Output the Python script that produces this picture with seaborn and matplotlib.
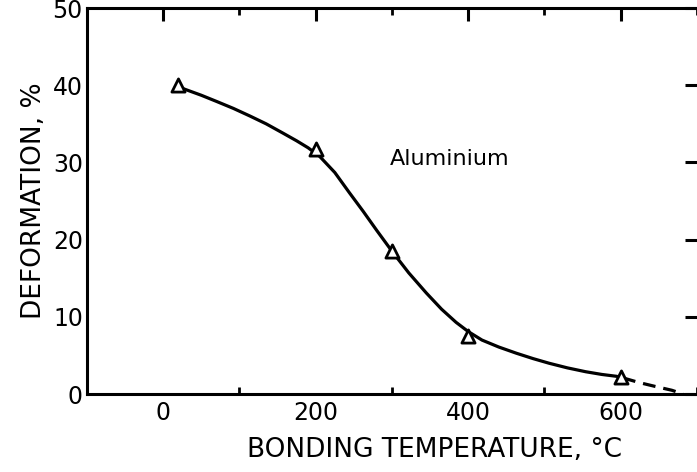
import matplotlib
matplotlib.use("Agg")
import matplotlib.pyplot as plt
import seaborn as sns
import pandas as pd
from matplotlib.ticker import MultipleLocator

# measured points (triangles)
temp_pts = [20, 200, 300, 400, 600]
deform_pts = [40.0, 31.8, 18.5, 7.5, 2.2]

# fitted curve (solid part)
curve_x = [25, 50, 70, 92, 114, 135, 157, 175, 190, 205, 225, 244, 262, 280, 300,
           322, 345, 365, 384, 400, 418, 440, 463, 485, 506, 530, 554, 575, 595]
curve_y = [39.6, 38.7, 37.9, 37.0, 36.0, 35.0, 33.8, 32.8, 31.9, 30.8, 28.7, 26.1,
           23.7, 21.2, 18.5, 15.7, 13.1, 11.0, 9.3, 8.1, 7.0, 6.1, 5.3, 4.6, 4.0,
           3.4, 2.9, 2.55, 2.3]
# dashed extrapolation
dash_x = [603, 624, 645, 667, 682]
dash_y = [2.1, 1.5, 1.0, 0.5, 0.0]

x_ticks = [0, 200, 400, 600]
y_ticks = [0, 10, 20, 30, 40, 50]

sns.set_theme(style="white")
plt.rcParams['font.family'] = ['DejaVu Sans']

fig = plt.figure(figsize=(6.97, 4.72), dpi=100)
ax = fig.add_axes([0.1248, 0.165, 0.8752, 0.818])

curve = pd.DataFrame({"x": curve_x, "y": curve_y})
dash = pd.DataFrame({"x": dash_x, "y": dash_y})
pts = pd.DataFrame({"x": temp_pts, "y": deform_pts})

sns.lineplot(data=curve, x="x", y="y", ax=ax, color="black", lw=2.3, sort=False)
sns.lineplot(data=dash, x="x", y="y", ax=ax, color="black", lw=2.3, sort=False,
             linestyle=(0, (4, 2.5)))
sns.scatterplot(data=pts, x="x", y="y", ax=ax, marker="^", s=90, facecolor="white",
                edgecolor="black", linewidth=2.0, zorder=5)

ax.set_xlim(-100, 700)
ax.set_ylim(0, 50)
ax.set_xticks(x_ticks)
ax.set_yticks(y_ticks)
ax.xaxis.set_minor_locator(MultipleLocator(100))

for side in ["left", "bottom", "top"]:
    ax.spines[side].set_visible(True)
    ax.spines[side].set_color("black")
    ax.spines[side].set_linewidth(2.2)
ax.spines["right"].set_visible(False)

ax.tick_params(axis="both", which="major", direction="in", length=9, width=2.2,
               color="black", labelsize=17, labelcolor="black", pad=5,
               top=True, right=True)
ax.tick_params(axis="x", which="minor", direction="in", length=5, width=2.0,
               color="black", top=True, bottom=True)
ax.tick_params(axis="y", which="major", pad=3)

ax.set_xlabel("BONDING TEMPERATURE, °C", fontsize=19, color="black")
ax.xaxis.set_label_coords(0.569, -0.112)
ax.set_ylabel("DEFORMATION, %", fontsize=19, color="black", labelpad=4)

ax.text(297, 30.5, "Aluminium", fontsize=16, color="black", va="center", ha="left")

fig.savefig("out.png", dpi=100)
